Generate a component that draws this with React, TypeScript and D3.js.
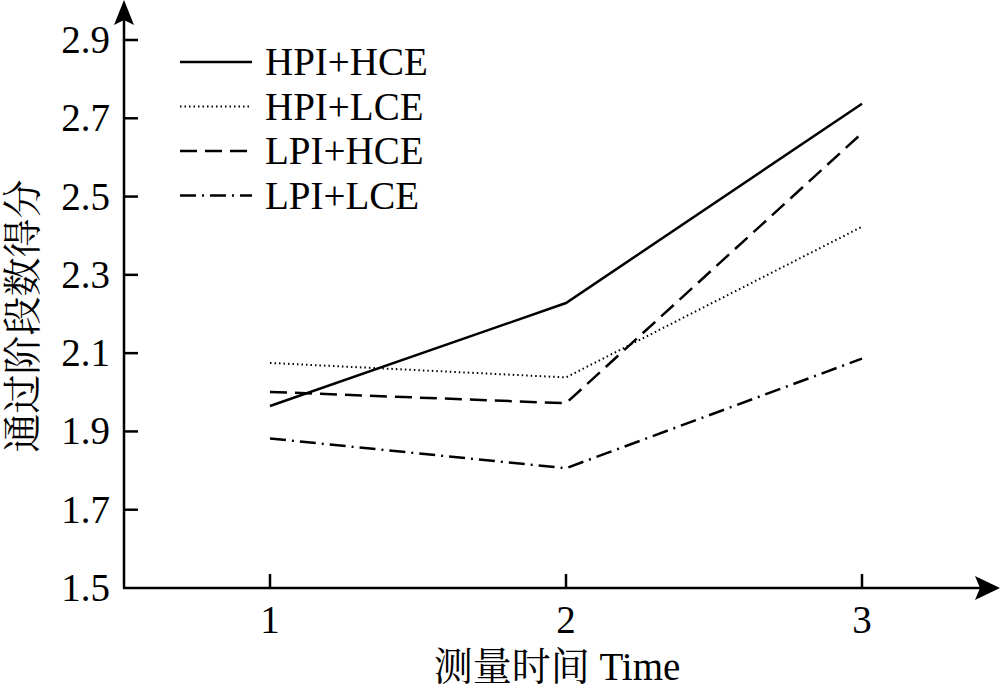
import * as d3 from "d3";
import { useEffect, useRef } from "react";

// данные графика
const times = [1, 2, 3];
const hpiHce = [1.965, 2.228, 2.737];
const hpiLce = [2.075, 2.038, 2.423];
const lpiHce = [2.001, 1.972, 2.662];
const lpiLce = [1.882, 1.806, 2.086];
const yTicks = [1.5, 1.7, 1.9, 2.1, 2.3, 2.5, 2.7, 2.9];
const seriesNames = ["HPI+HCE", "HPI+LCE", "LPI+HCE", "LPI+LCE"];
const dashes = ["none", "1.5 3", "17 8", "16 6 2 6"];

const FONT = "'Liberation Serif', 'Times New Roman', 'Noto Serif CJK SC', 'Noto Sans CJK SC', serif";

const App = () => {
  const svgRef = useRef<SVGSVGElement>(null);

  useEffect(() => {
    const svg = d3.select(svgRef.current);
    svg.selectAll("*").remove();

    const x0 = 124;
    const y0 = 588;

    const x = d3.scaleLinear().domain([1, 3]).range([270, 862]);
    const y = d3.scaleLinear().domain([1.5, 2.9]).range([y0, 40]);

    //оси со стрелками
    svg.append("line").attr("x1", x0).attr("y1", y0).attr("x2", x0).attr("y2", 12)
      .attr("stroke", "#000").attr("stroke-width", 2.5);
    svg.append("path").attr("d", `M${x0},0 L${x0 + 10},25 L${x0},20 L${x0 - 10},25 Z`).attr("fill", "#000");
    svg.append("line").attr("x1", x0 - 1).attr("y1", y0).attr("x2", 988).attr("y2", y0)
      .attr("stroke", "#000").attr("stroke-width", 2.5);
    svg.append("path").attr("d", `M1000,${y0} L975,${y0 - 12} L980,${y0} L975,${y0 + 12} Z`).attr("fill", "#000");

    //деления оси y
    yTicks.forEach(t => {
      if (t > 1.5) {
        svg.append("line").attr("x1", x0).attr("x2", x0 + 14).attr("y1", y(t)).attr("y2", y(t))
          .attr("stroke", "#000").attr("stroke-width", 2.5);
      }
      svg.append("text").attr("x", 110).attr("y", y(t) + 13).attr("text-anchor", "end")
        .style("font-family", FONT).style("font-size", "39px").text(t.toFixed(1));
    });

    //деления оси x
    times.forEach(t => {
      svg.append("line").attr("x1", x(t)).attr("x2", x(t)).attr("y1", y0).attr("y2", y0 - 14)
        .attr("stroke", "#000").attr("stroke-width", 2.5);
      svg.append("text").attr("x", x(t)).attr("y", y0 + 45).attr("text-anchor", "middle")
        .style("font-family", FONT).style("font-size", "39px").text(t);
    });

    //подписи осей
    svg.append("text").attr("x", 557).attr("y", 680).attr("text-anchor", "middle")
      .style("font-family", FONT).style("font-size", "39px").text("测量时间 Time");
    svg.append("text").attr("transform", "translate(36,316) rotate(-90)").attr("text-anchor", "middle")
      .style("font-family", FONT).style("font-size", "39px").text("通过阶段数得分");

    //линии
    const line = d3.line<[number, number]>().x(d => x(d[0])).y(d => y(d[1]));
    [hpiHce, hpiLce, lpiHce, lpiLce].forEach((vals, i) => {
      svg.append("path")
        .attr("d", line(times.map((t, j) => [t, vals[j]] as [number, number])))
        .attr("fill", "none").attr("stroke", "#000")
        .attr("stroke-width", i === 1 ? 2 : 2.5)
        .attr("stroke-dasharray", dashes[i]);
    });

    //легенда
    seriesNames.forEach((name, i) => {
      const ly = 62 + i * 44.5;
      svg.append("line").attr("x1", 180).attr("x2", 252).attr("y1", ly).attr("y2", ly)
        .attr("stroke", "#000").attr("stroke-width", i === 1 ? 2 : 2.5)
        .attr("stroke-dasharray", dashes[i]);
      svg.append("text").attr("x", 265).attr("y", ly + 13)
        .style("font-family", FONT).style("font-size", "39px").text(name);
    });
  }, []);

  return <svg ref={svgRef} width={1000} height={693} style={{ position: "absolute", left: 0, top: 0, background: "#fff" }} />;
};

export default App;
